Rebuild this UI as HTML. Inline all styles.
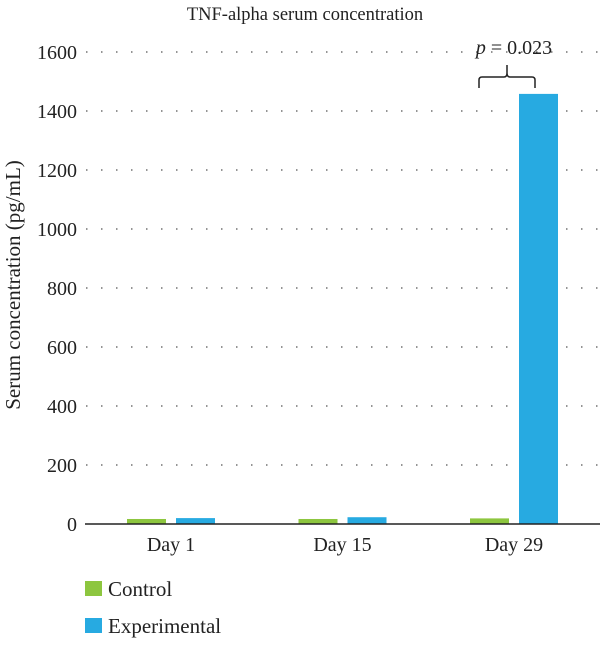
<!DOCTYPE html>
<html><head><meta charset="utf-8"><style>
body{margin:0;background:#fff;}
svg text{font-family:"Liberation Serif",serif;fill:#222;}
</style></head><body>
<svg id="chart" width="600" height="642" viewBox="0 0 600 642" xmlns="http://www.w3.org/2000/svg">
<text x="305" y="20" font-size="18.5" text-anchor="middle">TNF-alpha serum concentration</text>
<text transform="translate(20,285) rotate(-90)" font-size="21" text-anchor="middle">Serum concentration (pg/mL)</text>
<g id="grid"></g><g id="bars"></g><g id="labels"></g>
<line x1="85" y1="524" x2="600" y2="524" stroke="#222" stroke-width="1.5"/>
<g>
<path d="M479,88 V80 Q479,77 482,77 H504 Q507,77 507,73 V65 M507,73 Q507,77 510,77 H532 Q535,77 535,80 V88" fill="none" stroke="#222" stroke-width="1.5"/>
<text x="514" y="54" font-size="20" text-anchor="middle"><tspan font-style="italic">p</tspan> = 0.023</text>
</g>
<rect x="85" y="581" width="17" height="15" fill="#8dc63f"/>
<text x="108" y="596" font-size="21">Control</text>
<rect x="85" y="618" width="17" height="15" fill="#27aae1"/>
<text x="108" y="633" font-size="21">Experimental</text>
</svg>
<script>
const categories = ["Day 1","Day 15","Day 29"];
const controlValues = [17, 17, 19];
const experimentalValues = [20, 23, 1458];
const yTicks = [0,200,400,600,800,1000,1200,1400,1600];
const NS="http://www.w3.org/2000/svg";
function y(v){return 524 - v*(472/1600);}
function xc(i){return 171 + i*171.5;}
const grid=document.getElementById('grid'), bars=document.getElementById('bars'), labels=document.getElementById('labels');
yTicks.forEach(t=>{
  if(t>0){const l=document.createElementNS(NS,'line');
  
  
  l.setAttribute('x1',86);l.setAttribute('x2',600);l.setAttribute('y1',y(t));l.setAttribute('y2',y(t));
  l.setAttribute('stroke','#555');l.setAttribute('stroke-width','1.2');l.setAttribute('stroke-dasharray','1.5 13.5');
  grid.appendChild(l);}
  const tx=document.createElementNS(NS,'text');
  
  
  tx.setAttribute('x',77);tx.setAttribute('y',y(t)+7);tx.setAttribute('font-size','20');tx.setAttribute('text-anchor','end');
  tx.textContent=t;labels.appendChild(tx);
});
categories.forEach((c,i)=>{
  const bw=39;
  [[controlValues,'#8dc63f',-44,'bar-control'],[experimentalValues,'#27aae1',5,'bar-experimental']].forEach(([arr,col,off,nm])=>{
    const r=document.createElementNS(NS,'rect');
    
    
    r.setAttribute('x',xc(i)+off);r.setAttribute('width',bw);
    r.setAttribute('y',y(arr[i]));r.setAttribute('height',524-y(arr[i]));r.setAttribute('fill',col);
    bars.appendChild(r);
  });
  const tx=document.createElementNS(NS,'text');
  
  
  tx.setAttribute('x',xc(i));tx.setAttribute('y',551);tx.setAttribute('font-size','20');tx.setAttribute('text-anchor','middle');
  tx.textContent=c;labels.appendChild(tx);
});
</script>
</body></html>
